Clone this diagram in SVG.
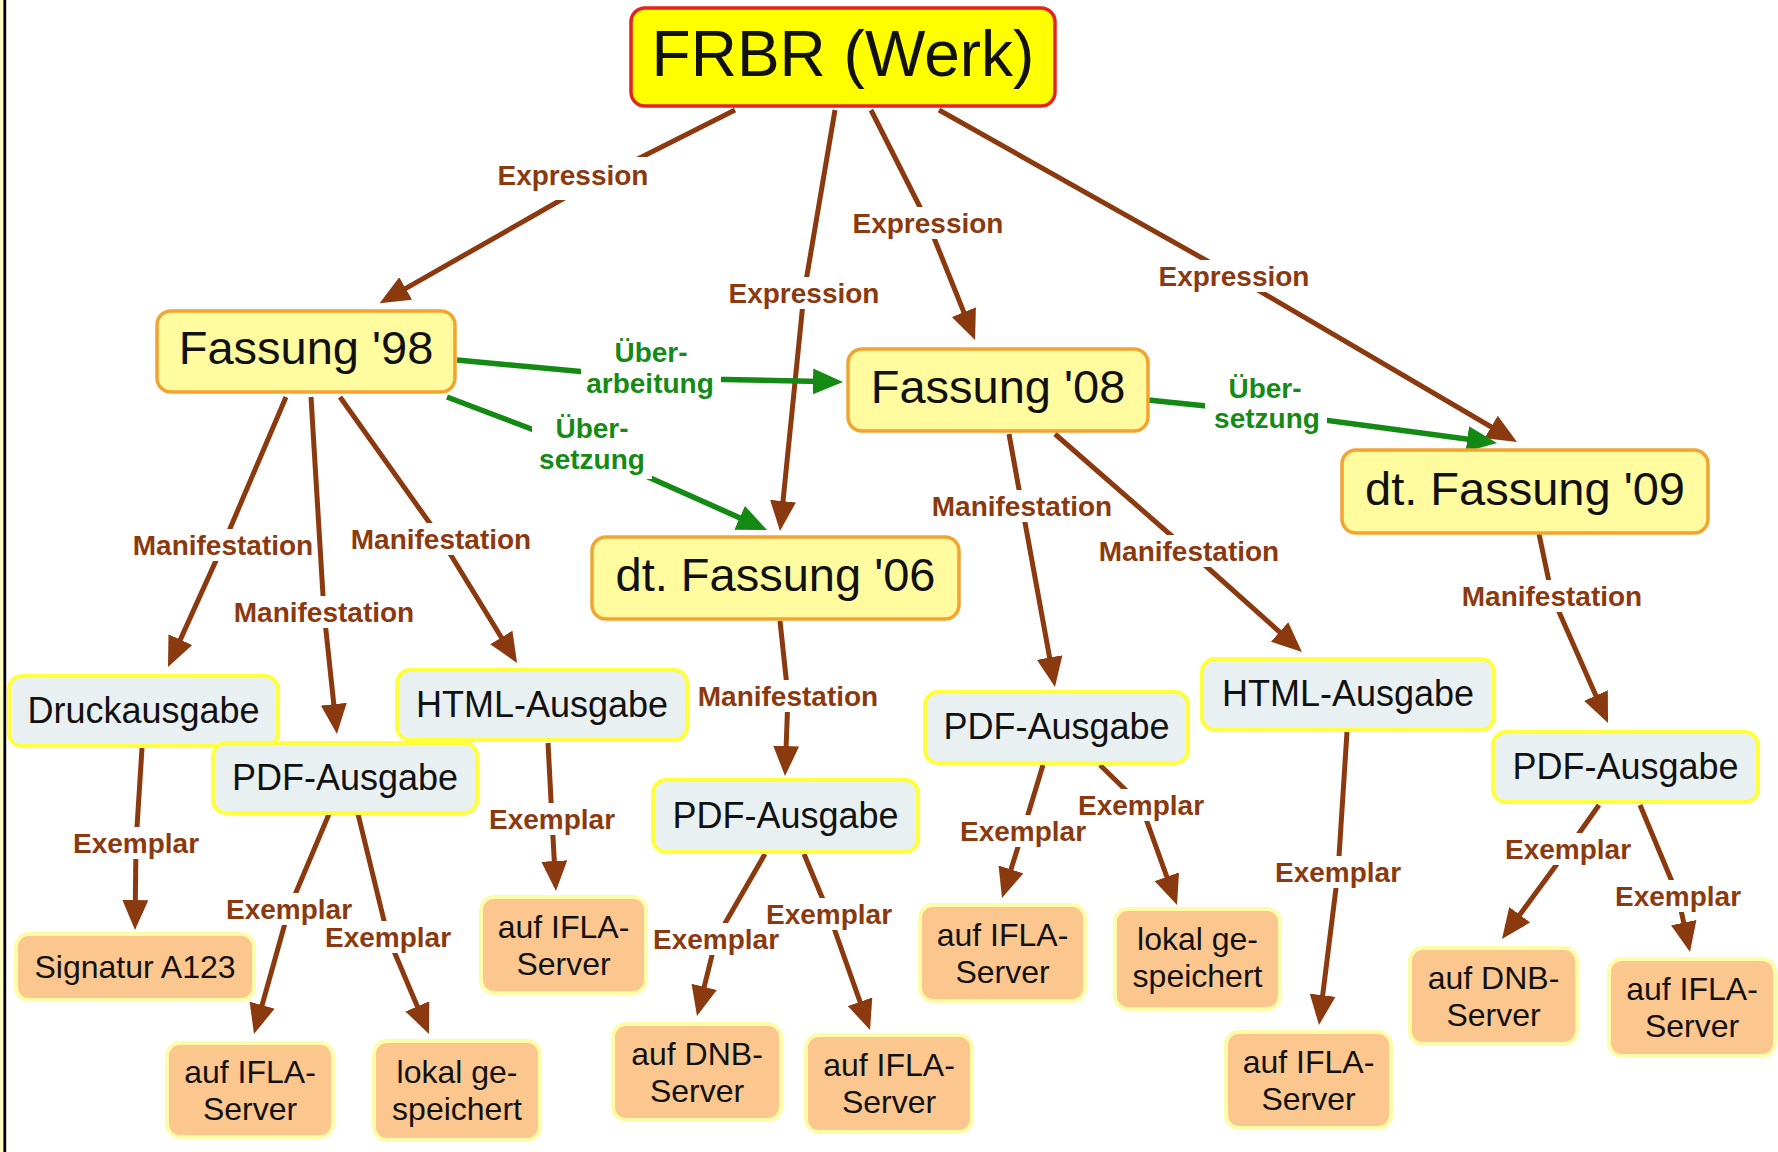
<svg xmlns="http://www.w3.org/2000/svg" width="1778" height="1152" viewBox="0 0 1778 1152">
<style>
text{font-family:"Liberation Sans",Arial,Helvetica,sans-serif;text-anchor:middle;fill:#111}
.top rect{fill:#ffff00;stroke:#e4231d;stroke-width:3.5}
.main rect{fill:#fffb9e;stroke:#f2a431;stroke-width:3.5}
.mid rect{fill:#e9f0f2;stroke:#ffff3c;stroke-width:4}
.leaf rect{fill:#fcc78f;stroke:#fdfca8;stroke-width:4}
.top text{font-size:64px}
.main text{font-size:47px}
.mid text{font-size:36px}
.leaf text{font-size:32px}
.c{fill:none;stroke:#8b3a0f;stroke-width:5;stroke-linejoin:round}
.g{fill:none;stroke:#148a14;stroke-width:5.5;stroke-linejoin:round}
.lb rect{fill:#ffffff}
.lb text{font-size:28px;font-weight:bold;fill:#8b3a0f}
.gl text{fill:#168a16}
</style>
<defs>
<marker id="ab" viewBox="0 0 30 26" refX="20" refY="13" markerWidth="30" markerHeight="26" markerUnits="userSpaceOnUse" orient="auto"><path d="M0,0 L30,13 L0,26 z" fill="#8b3a0f"/></marker>
<marker id="ag" viewBox="0 0 30 26" refX="20" refY="13" markerWidth="30" markerHeight="26" markerUnits="userSpaceOnUse" orient="auto"><path d="M0,0 L30,13 L0,26 z" fill="#148a14"/></marker>
</defs>
<rect x="0" y="0" width="1778" height="1152" fill="#ffffff"/>
<rect x="0" y="0" width="3.4" height="1152" fill="#ffffc0"/>
<rect x="3.4" y="0" width="2.8" height="1152" fill="#000000"/>

<g id="connectors">
<polyline class="c" points="735,110 596,180 388.3,298.4" marker-end="url(#ab)"/>
<polyline class="c" points="835,110 804,293 781,521" marker-end="url(#ab)"/>
<polyline class="c" points="871,110 928,223 971.3,330.7" marker-end="url(#ab)"/>
<polyline class="c" points="939,110 1234,276 1508.4,437" marker-end="url(#ab)"/>
<polyline class="c" points="286,397 223,545 172.1,657.9" marker-end="url(#ab)"/>
<polyline class="c" points="311,397 324,612 335.9,724.1" marker-end="url(#ab)"/>
<polyline class="c" points="340,397 441,539 511.8,654.5" marker-end="url(#ab)"/>
<polyline class="c" points="780,621 788,696 785.4,766" marker-end="url(#ab)"/>
<polyline class="c" points="1009,434 1022,506 1053.2,677.2" marker-end="url(#ab)"/>
<polyline class="c" points="1055,434 1189,551 1294.5,645.3" marker-end="url(#ab)"/>
<polyline class="c" points="1539,534 1552,596 1604,713.9" marker-end="url(#ab)"/>
<polyline class="c" points="142,748 136,843 135.1,920" marker-end="url(#ab)"/>
<polyline class="c" points="329,814 289,909 256.7,1024.4" marker-end="url(#ab)"/>
<polyline class="c" points="358,814 388,937 425.1,1024.8" marker-end="url(#ab)"/>
<polyline class="c" points="548,743 552,819 555.4,881" marker-end="url(#ab)"/>
<polyline class="c" points="765,854 716,939 699.4,1006.3" marker-end="url(#ab)"/>
<polyline class="c" points="804,854 829,914 866.7,1020.6" marker-end="url(#ab)"/>
<polyline class="c" points="1043,765 1023,831 1005,888.5" marker-end="url(#ab)"/>
<polyline class="c" points="1100,765 1141,805 1173.6,895.6" marker-end="url(#ab)"/>
<polyline class="c" points="1347,732 1338,872 1320.2,1015.1" marker-end="url(#ab)"/>
<polyline class="c" points="1599,805 1568,849 1507.9,930.9" marker-end="url(#ab)"/>
<polyline class="c" points="1640,805 1678,896 1687.9,942.2" marker-end="url(#ab)"/>
<polyline class="g" points="457,360 651,378 833,381.8" marker-end="url(#ag)"/>
<polyline class="g" points="447,397 592,452 757.9,525.9" marker-end="url(#ag)"/>
<polyline class="g" points="1148,400 1265,412 1487.1,441.7" marker-end="url(#ag)"/>

<g class="lb"><rect x="495" y="157" width="156" height="43"/><text x="573" y="185">Expression</text></g>
<g class="lb"><rect x="726" y="277" width="156" height="32"/><text x="804" y="303">Expression</text></g>
<g class="lb"><rect x="850" y="207" width="156" height="32"/><text x="928" y="233">Expression</text></g>
<g class="lb"><rect x="1156" y="260" width="156" height="32"/><text x="1234" y="286">Expression</text></g>
<g class="lb"><rect x="131" y="529" width="184" height="32"/><text x="223" y="555">Manifestation</text></g>
<g class="lb"><rect x="232" y="596" width="184" height="32"/><text x="324" y="622">Manifestation</text></g>
<g class="lb"><rect x="349" y="523" width="184" height="32"/><text x="441" y="549">Manifestation</text></g>
<g class="lb"><rect x="696" y="680" width="184" height="32"/><text x="788" y="706">Manifestation</text></g>
<g class="lb"><rect x="930" y="490" width="184" height="32"/><text x="1022" y="516">Manifestation</text></g>
<g class="lb"><rect x="1097" y="535" width="184" height="32"/><text x="1189" y="561">Manifestation</text></g>
<g class="lb"><rect x="1460" y="580" width="184" height="32"/><text x="1552" y="606">Manifestation</text></g>
<g class="lb"><rect x="72" y="827" width="128" height="32"/><text x="136" y="853">Exemplar</text></g>
<g class="lb"><rect x="225" y="893" width="128" height="32"/><text x="289" y="919">Exemplar</text></g>
<g class="lb"><rect x="324" y="921" width="128" height="32"/><text x="388" y="947">Exemplar</text></g>
<g class="lb"><rect x="488" y="803" width="128" height="32"/><text x="552" y="829">Exemplar</text></g>
<g class="lb"><rect x="652" y="923" width="128" height="32"/><text x="716" y="949">Exemplar</text></g>
<g class="lb"><rect x="765" y="898" width="128" height="32"/><text x="829" y="924">Exemplar</text></g>
<g class="lb"><rect x="959" y="815" width="128" height="32"/><text x="1023" y="841">Exemplar</text></g>
<g class="lb"><rect x="1077" y="789" width="128" height="32"/><text x="1141" y="815">Exemplar</text></g>
<g class="lb"><rect x="1274" y="856" width="128" height="32"/><text x="1338" y="882">Exemplar</text></g>
<g class="lb"><rect x="1504" y="833" width="128" height="32"/><text x="1568" y="859">Exemplar</text></g>
<g class="lb"><rect x="1614" y="880" width="128" height="32"/><text x="1678" y="906">Exemplar</text></g>
<g class="lb gl"><rect x="581" y="338" width="140" height="64"/><text x="651" y="362">Über-</text><text x="650" y="393">arbeitung</text></g>
<g class="lb gl"><rect x="532" y="415" width="120" height="64"/><text x="592" y="438">Über-</text><text x="592" y="469">setzung</text></g>
<g class="lb gl"><rect x="1205" y="375" width="122" height="62"/><text x="1265" y="398">Über-</text><text x="1267" y="428">setzung</text></g>
</g>

<g id="frbr" class="top"><rect x="631" y="8" width="424" height="98" rx="14"/><text x="843" y="76">FRBR (Werk)</text></g>
<g id="fassung98" class="main"><rect x="157" y="311" width="298" height="81" rx="14"/><text x="306" y="364">Fassung '98</text></g>
<g id="fassung08" class="main"><rect x="848" y="349" width="300" height="82" rx="14"/><text x="998" y="403">Fassung '08</text></g>
<g id="fassung09" class="main"><rect x="1342" y="450" width="366" height="83" rx="14"/><text x="1525" y="505">dt. Fassung '09</text></g>
<g id="fassung06" class="main"><rect x="592" y="537" width="367" height="82" rx="14"/><text x="775.5" y="591">dt. Fassung '06</text></g>

<g id="druck" class="mid"><rect x="9" y="676" width="269" height="70" rx="13"/><text x="143.5" y="723">Druckausgabe</text></g>
<g id="pdf98" class="mid"><rect x="213" y="743" width="264" height="70" rx="13"/><text x="345" y="790">PDF-Ausgabe</text></g>
<g id="html98" class="mid"><rect x="397" y="670" width="290" height="70" rx="13"/><text x="542" y="717">HTML-Ausgabe</text></g>
<g id="pdf06" class="mid"><rect x="653" y="780" width="265" height="72" rx="13"/><text x="785.5" y="828">PDF-Ausgabe</text></g>
<g id="pdf08" class="mid"><rect x="925" y="692" width="263" height="71" rx="13"/><text x="1056.5" y="739">PDF-Ausgabe</text></g>
<g id="html08" class="mid"><rect x="1202" y="659" width="292" height="71" rx="13"/><text x="1348" y="706">HTML-Ausgabe</text></g>
<g id="pdf09" class="mid"><rect x="1493" y="732" width="265" height="70" rx="13"/><text x="1625.5" y="779">PDF-Ausgabe</text></g>

<g id="signatur" class="leaf"><rect x="16" y="934" width="238" height="66" rx="13"/><text x="135" y="978">Signatur A123</text></g>
<g id="ifla1" class="leaf"><rect x="167" y="1043" width="166" height="94" rx="13"/><text x="250" y="1083">auf IFLA-</text><text x="250" y="1120">Server</text></g>
<g id="lokal1" class="leaf"><rect x="374" y="1041" width="166" height="99" rx="13"/><text x="457" y="1083">lokal ge-</text><text x="457" y="1120">speichert</text></g>
<g id="ifla2" class="leaf"><rect x="481" y="897" width="165" height="96" rx="13"/><text x="563.5" y="938">auf IFLA-</text><text x="563.5" y="975">Server</text></g>
<g id="dnb1" class="leaf"><rect x="613" y="1024" width="168" height="96" rx="13"/><text x="697" y="1065">auf DNB-</text><text x="697" y="1102">Server</text></g>
<g id="ifla3" class="leaf"><rect x="806" y="1035" width="166" height="97" rx="13"/><text x="889" y="1076">auf IFLA-</text><text x="889" y="1113">Server</text></g>
<g id="ifla4" class="leaf"><rect x="920" y="905" width="165" height="96" rx="13"/><text x="1002.5" y="946">auf IFLA-</text><text x="1002.5" y="983">Server</text></g>
<g id="lokal2" class="leaf"><rect x="1115" y="909" width="165" height="100" rx="13"/><text x="1197.5" y="950">lokal ge-</text><text x="1197.5" y="987">speichert</text></g>
<g id="ifla5" class="leaf"><rect x="1226" y="1032" width="165" height="96" rx="13"/><text x="1308.5" y="1073">auf IFLA-</text><text x="1308.5" y="1110">Server</text></g>
<g id="dnb2" class="leaf"><rect x="1410" y="948" width="167" height="96" rx="13"/><text x="1493.5" y="989">auf DNB-</text><text x="1493.5" y="1026">Server</text></g>
<g id="ifla6" class="leaf"><rect x="1609" y="959" width="166" height="97" rx="13"/><text x="1692" y="1000">auf IFLA-</text><text x="1692" y="1037">Server</text></g>
</svg>
